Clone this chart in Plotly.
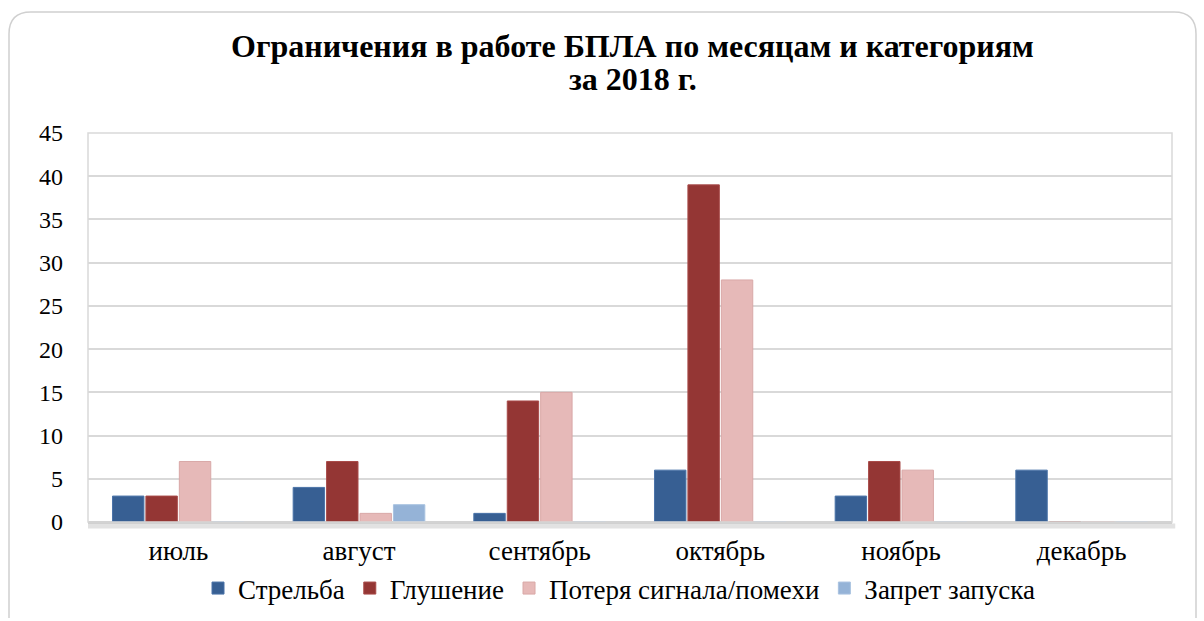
import plotly.graph_objects as go

months = ["июль", "август", "сентябрь", "октябрь", "ноябрь", "декабрь"]
series_names = ["Стрельба", "Глушение", "Потеря сигнала/помехи", "Запрет запуска"]
strelba = [3, 4, 1, 6, 3, 6]
glushenie = [3, 7, 14, 39, 7, 0]
poterya = [7, 1, 15, 28, 6, 0]
zapret = [0, 2, 0, 0, 0, 0]
colors = ["#375f93", "#943634", "#e6b9b8", "#95b3d7"]
line_colors = ["#4a73a8", "#a84a48", "#d9a8a7", "#a8c2e0"]
yticks = [0, 5, 10, 15, 20, 25, 30, 35, 40, 45]
title_lines = ["Ограничения в работе БПЛА по месяцам и категориям", "за 2018 г."]

font = "Liberation Serif"

fig = go.Figure()
for name, vals, c, lc in zip(series_names, [strelba, glushenie, poterya, zapret], colors, line_colors):
    fig.add_trace(go.Bar(
        x=months, y=vals, name=name,
        marker=dict(color=c, line=dict(color=lc, width=1)),
    ))

W, H = 1204, 621
pl, pr, pt, pb = 88, 32, 133, 99
pw, ph = W - pl - pr, H - pt - pb


def px(x):
    return (x - pl) / pw


def py(y):
    return (H - pb - y) / ph


x0, y0, x1, y1, r = 9, 12, 1196, 618, 22
path = (f"M {px(x0 + r)},{py(y0)} L {px(x1 - r)},{py(y0)} "
        f"Q {px(x1)},{py(y0)} {px(x1)},{py(y0 + r)} L {px(x1)},{py(y1)} "
        f"M {px(x0)},{py(y1)} L {px(x0)},{py(y0 + r)} "
        f"Q {px(x0)},{py(y0)} {px(x0 + r)},{py(y0)}")

annotations = [
    dict(text=f"<b>{title_lines[0]}</b>", xref="paper", yref="paper",
         x=px(632), y=py(46), xanchor="center", yanchor="middle", showarrow=False,
         font=dict(family=font, size=32, color="black")),
    dict(text=f"<b>{title_lines[1]}</b>", xref="paper", yref="paper",
         x=px(633), y=py(79), xanchor="center", yanchor="middle", showarrow=False,
         font=dict(family=font, size=32, color="black")),
]

fig.update_layout(
    width=W, height=H,
    barmode="group", bargap=0.26, bargroupgap=0.06,
    paper_bgcolor="white", plot_bgcolor="white",
    margin=dict(l=pl, r=pr, t=pt, b=pb, autoexpand=False),
    font=dict(family=font, size=24, color="black"),
    annotations=annotations,
    showlegend=True,
    legend=dict(
        orientation="h", x=px(619), xanchor="center", y=-(564 - (H - pb)) / ph, yanchor="top",
        font=dict(family=font, size=27, color="black"),
        tracegroupgap=0, bgcolor="rgba(0,0,0,0)",
    ),
    shapes=[
        dict(type="path", xref="paper", yref="paper", path=path,
             line=dict(color="#d0d0d0", width=1.5), layer="above"),
        dict(type="rect", xref="paper", yref="paper", x0=0, y0=0, x1=1, y1=1,
             line=dict(color="#d9d9d9", width=1.5), layer="above"),
        dict(type="line", xref="paper", yref="paper", x0=0, x1=1.003,
             y0=-4 / ph, y1=-4 / ph, line=dict(color="#e2e2e2", width=5),
             layer="above"),
    ],
)

fig.update_xaxes(
    showgrid=False, showline=False, ticks="", ticklabelstandoff=10,
    tickfont=dict(family=font, size=27, color="black"),
)
fig.update_yaxes(
    range=[0, 45], tickvals=yticks, showgrid=True, gridcolor="#d9d9d9",
    gridwidth=1.5, zeroline=True, zerolinecolor="#c0c0c0", zerolinewidth=2.5,
    showline=False, ticks="", ticklabelstandoff=24,
    tickfont=dict(family=font, size=24, color="black"),
)

fig.write_html("out.html", config={"displayModeBar": False},
               post_script="document.body.style.margin='0';")
